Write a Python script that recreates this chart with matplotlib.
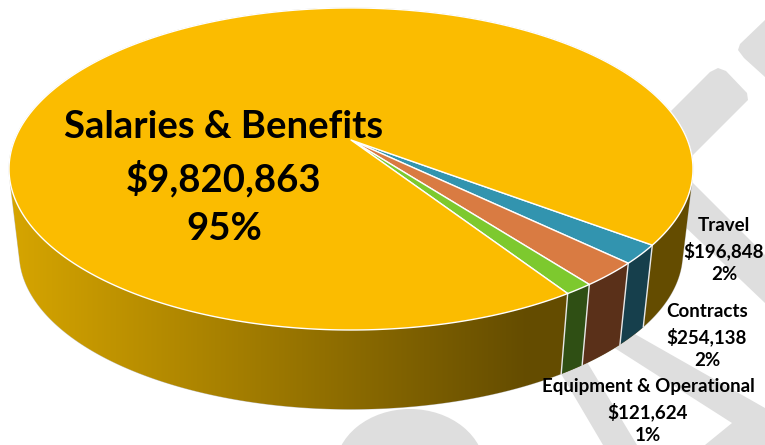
import numpy as np
import matplotlib
matplotlib.use('Agg')
import matplotlib.pyplot as plt
from matplotlib.colors import LinearSegmentedColormap
from matplotlib.patches import Ellipse, Polygon

# slices in drawing order, clockwise from the right hand edge of Travel
names = ['Travel', 'Contracts', 'Equipment & Operational', 'Salaries & Benefits']
amounts = [196848, 254138, 121624, 9820863]
percents = ['2%', '2%', '1%', '95%']
top_colors = ['#3294AF', '#D97B42', '#7DC92E', '#FBBC00']
side_colors = ['#163F4C', '#5A3019', '#2F4F14']

START_ANGLE = -37.0

# perspective of the disc, in pixels
CX, APEX_Y = 351.0, 140.0
A, B, K = 336.4, 155.8, 0.18
SHRINK, BOTTOM_APEX_Y = 0.97, 225.0

plt.rcParams['font.family'] = ['Lato', 'DejaVu Sans']
plt.rcParams['font.weight'] = 'bold'


def rim(deg, bottom=False):
    t = np.radians(deg)
    w = 1 + K * np.sin(t)
    s, y0 = (SHRINK, BOTTOM_APEX_Y) if bottom else (1.0, APEX_Y)
    return np.column_stack([CX + s * A * np.cos(t) / w, y0 - s * B * np.sin(t) / w])


def hull(points):
    # monotone chain, the wall is the outline round both rims
    pts = sorted(map(tuple, points))

    def half(seq):
        out = []
        for p in seq:
            while len(out) > 1 and ((out[-1][0] - out[-2][0]) * (p[1] - out[-2][1])
                                    - (out[-1][1] - out[-2][1]) * (p[0] - out[-2][0])) <= 0:
                out.pop()
            out.append(p)
        return out[:-1]
    return half(pts) + half(pts[::-1])


fig = plt.figure(figsize=(7.65, 4.45), dpi=100)
ax = fig.add_axes([0, 0, 1, 1])

# grey watermark behind the chart
mark = '#DEDEDE'
shapes = [
    [(765, 20), (740, 44), (738, 50), (744, 58), (765, 77)],
    [(640, 142), (710, 72), (718, 68), (726, 71), (747, 93), (748, 100), (693, 155), (660, 190)],
    [(692, 182), (765, 255), (765, 303), (680, 222), (660, 200)],
    [(633, 333), (765, 408), (765, 445), (705, 445), (732, 423), (613, 347)],
    [(560, 372), (587, 362), (637, 445), (603, 445)],
]
for pts in shapes:
    ax.add_patch(Polygon(pts, closed=True, fc=mark, ec='none', zorder=0))
ax.add_patch(Ellipse((410, 470), 150, 122, fc=mark, ec='none', zorder=0))

# slice limits from the values
shares = np.array(amounts) / sum(amounts)
edges = START_ANGLE - np.concatenate([[0], np.cumsum(shares) * 360])

# salaries wall first, shaded left to right
around = np.linspace(0, 360, 720, endpoint=False)
wall = Polygon(hull(np.vstack([rim(around), rim(around, True)])), closed=True,
               fc='none', ec='#C4C4C4', lw=0.6, zorder=2)
ax.add_patch(wall)
shade = LinearSegmentedColormap.from_list('wall', ['#D6A500', '#644C00'])
img = ax.imshow(np.linspace(0, 1, 256).reshape(1, -1), cmap=shade, aspect='auto',
                extent=(10, 530, 445, 0), interpolation='bilinear', zorder=2)
img.set_clip_path(wall)
# past the end of the gradient the wall stays at the dark colour
dark = ax.imshow([[1.0]], cmap=shade, vmin=0, vmax=1, aspect='auto',
                 extent=(530, 765, 445, 0), zorder=2)
dark.set_clip_path(wall)
left = ax.imshow([[0.0]], cmap=shade, vmin=0, vmax=1, aspect='auto',
                 extent=(0, 10, 445, 0), zorder=2)
left.set_clip_path(wall)

# the three small wall pieces on top of it
for i, side in enumerate(side_colors):
    th = np.linspace(edges[i], edges[i + 1], 30)
    ax.add_patch(Polygon(np.vstack([rim(th), rim(th, True)[::-1]]), closed=True, fc=side, ec='none', zorder=3))

ax.set_xlim(0, 765)
ax.set_ylim(445, 0)
ax.axis('off')

# white lines between the wall pieces
for e in edges[:4]:
    p, q = rim(e), rim(e, True)
    ax.plot([p[0, 0], q[0, 0]], [p[0, 1], q[0, 1]], color='#E8E8E8', lw=1, zorder=3)

# top face
for i, c in enumerate(top_colors):
    pts = rim(np.linspace(edges[i], edges[i + 1], 400))
    pts = np.vstack([[CX, APEX_Y], pts])
    ax.add_patch(Polygon(pts, closed=True, fc=c, ec='white', lw=1, joinstyle='round', zorder=4))


def money(v):
    return '${:,}'.format(v)


big = '\n'.join([names[3], money(amounts[3]), percents[3]])
ax.text(224, 178, big, fontsize=27.5, ha='center', va='center', linespacing=1.5, color='black', zorder=6)
spots = [(724, 250), (707, 336), (648, 411)]
for i, (x, y) in enumerate(spots):
    label = '\n'.join([names[i], money(amounts[i]), percents[i]])
    ax.text(x, y, label, fontsize=13.5, ha='center', va='center', linespacing=1.47, color='black', zorder=6)

fig.savefig('out.png', dpi=100)
